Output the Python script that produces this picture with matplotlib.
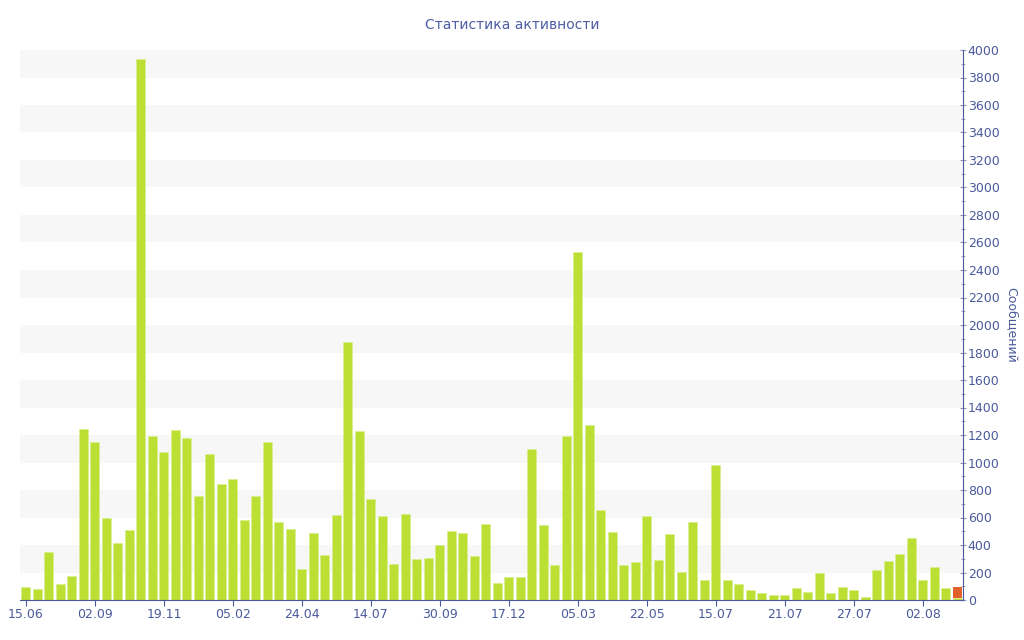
import numpy as np
import matplotlib.pyplot as plt

tick_labels = ['15.06', '02.09', '19.11', '05.02', '24.04', '14.07', '30.09',
               '17.12', '05.03', '22.05', '15.07', '21.07', '27.07', '02.08']

messages = [97, 78, 349, 119, 177, 1244, 1149, 596, 417, 509,
            3935, 1195, 1079, 1234, 1181, 754, 1059, 841, 877, 582,
            754, 1147, 567, 514, 228, 485, 327, 617, 1876, 1229,
            734, 608, 262, 625, 296, 305, 398, 502, 490, 322,
            550, 121, 167, 167, 1098, 545, 252, 1193, 2531, 1275,
            655, 497, 257, 274, 611, 289, 478, 206, 567, 145,
            982, 148, 119, 70, 48, 39, 36, 90, 56, 196,
            48, 92, 70, 24, 221, 286, 334, 453, 145, 240,
            85, 17]
# last bar has an extra orange part on top
today_extra = 75

blue = '#4a5a9c'
green = '#bbdf32'
orange = '#e0622a'

x = np.arange(len(messages))

fig = plt.figure(figsize=(10.24, 6.4), dpi=100)
ax = fig.add_axes([20/1024, 40/640, 943/1024, 550/640])

# striped background
for lo in range(200, 4000, 400):
    ax.axhspan(lo, lo + 200, color='#f7f7f7', zorder=0, lw=0)

ax.bar(x, messages, width=0.78, color=green, edgecolor='#d8ee90', linewidth=0.6, zorder=2)
ax.bar(x[-1], today_extra, bottom=messages[-1], width=0.78, color=orange, zorder=2)

ax.set_xlim(-0.52, 81.5)
ax.set_ylim(0, 4000)

ax.yaxis.tick_right()
ax.yaxis.set_label_position('right')
ax.set_yticks(np.arange(0, 4001, 200))
ax.set_yticks(np.arange(100, 4000, 200), minor=True)
ax.tick_params(axis='y', which='major', colors='#8d95b8', labelcolor=blue, length=5,
               direction='inout', labelsize=9, pad=1)
ax.tick_params(axis='y', which='minor', colors='#8d95b8', length=3, direction='inout')
ax.set_ylabel('Сообщений', color=blue, rotation=270, labelpad=13, fontsize=9)

ax.set_xticks(x[::6])
ax.set_xticklabels(tick_labels)
ax.tick_params(axis='x', colors=blue, labelsize=9, length=4, pad=2)

for s in ['top', 'left']:
    ax.spines[s].set_visible(False)
ax.spines['right'].set_color(blue)
ax.spines['bottom'].set_color(blue)

fig.text(0.5, 1 - 25/640, 'Статистика активности', color='#4d5ea3', fontsize=10,
         ha='center', va='center')

fig.savefig('out.png', dpi=100)
